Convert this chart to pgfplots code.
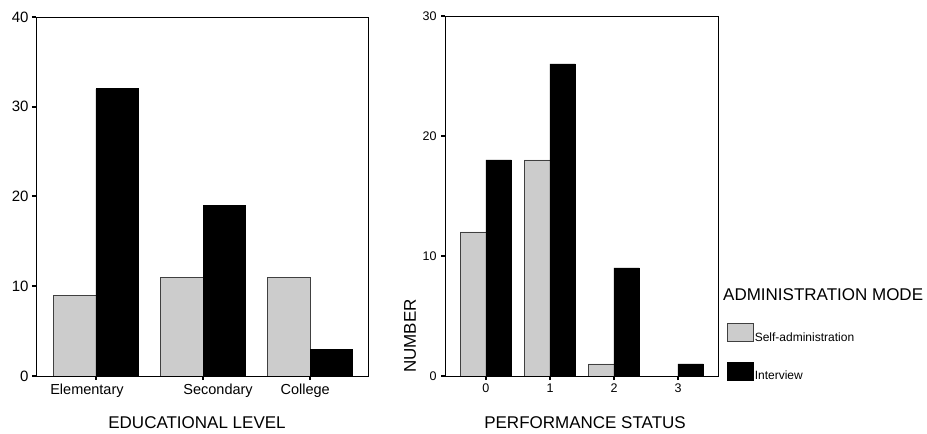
\documentclass[border=0pt]{standalone}
\usepackage{pgfplots}
\pgfplotsset{compat=1.18}
\usepackage{fontspec}
\setmainfont{Liberation Sans}
\definecolor{barfill}{RGB}{204,204,204}
\begin{document}
\begin{tikzpicture}
\path[use as bounding box] (0,0) rectangle (927pt,434pt);
\begin{axis}[
  at={(36pt,58pt)}, anchor=south west,
  scale only axis, width=332pt, height=359pt,
  xmin=-0.56, xmax=2.54, ymin=0, ymax=40,
  ytick={0,10,20,30,40}, xtick={0,1,2},
  xticklabels={\makebox[0pt]{\hspace*{-18pt}Elementary},\makebox[0pt]{\hspace*{30pt}Secondary},\makebox[0pt]{\hspace*{-10pt}College}},
  tick align=outside, xtick pos=bottom, ytick pos=left,
  major tick length=4pt,
  tick style={line width=2pt, black},
  axis line style={line width=0.7pt},
  /pgf/number format/assume math mode=true,
  yticklabel style={font=\fontsize{15}{17}\selectfont},
  xticklabel style={font=\fontsize{14.5}{17}\selectfont},
  xlabel={EDUCATIONAL LEVEL},
  xlabel style={at={(axis description cs:0.485,-0.131)}, anchor=center, font=\fontsize{17}{19}\selectfont},
  ybar, bar width=42.5pt,
]
\addplot[fill=barfill, draw=black!75, line width=0.6pt, bar shift=-21.25pt] coordinates {(0,9) (1,11) (2,11)};
\addplot[fill=black, draw=black, line width=0.6pt, bar shift=21.25pt] coordinates {(0,32) (1,19) (2,3)};
\end{axis}
\begin{axis}[
  at={(445pt,58pt)}, anchor=south west,
  scale only axis, width=273pt, height=360pt,
  xmin=-0.64, xmax=3.625, ymin=0, ymax=30,
  ytick={0,10,20,30}, xtick={0,1,2,3},
  tick align=outside, xtick pos=bottom, ytick pos=left,
  major tick length=4pt,
  tick style={line width=2pt, black},
  axis line style={line width=0.7pt},
  /pgf/number format/assume math mode=true,
  yticklabel style={font=\fontsize{12.5}{14}\selectfont, xshift=-1pt},
  xticklabel style={font=\fontsize{12.5}{14}\selectfont},
  xlabel={PERFORMANCE STATUS},
  xlabel style={at={(axis description cs:0.513,-0.1306)}, anchor=center, font=\fontsize{17}{19}\selectfont},
  ylabel={NUMBER},
  ylabel style={at={(axis description cs:-0.128,0.111)}, anchor=center, font=\fontsize{17}{19}\selectfont},
  ybar, bar width=25.5pt,
  legend cell align=left,
  legend style={at={(axis description cs:1.033,0.147)}, anchor=north west, draw=none, fill=none,
    inner sep=0pt, row sep=18pt, font=\fontsize{12}{14}\selectfont,
    nodes={inner sep=1pt}},
]
\addplot[fill=barfill, draw=black!75, line width=0.6pt, bar shift=-12.75pt,
  legend image code/.code={\draw[fill=barfill, draw=black!75, line width=0.6pt] (0pt,-4pt) rectangle (26pt,14pt);}]
  coordinates {(0,12) (1,18) (2,1)};
\addlegendentry{Self-administration}
\addplot[fill=black, draw=black, line width=0.6pt, bar shift=12.75pt,
  legend image code/.code={\draw[fill=black, draw=black] (0pt,-4pt) rectangle (26pt,14pt);}]
  coordinates {(0,18) (1,26) (2,9) (3,1)};
\addlegendentry{Interview}
\end{axis}
\node[anchor=west, inner sep=0pt, font=\fontsize{17}{19}\selectfont] at (723pt,139pt) {ADMINISTRATION MODE};
\end{tikzpicture}
\end{document}
